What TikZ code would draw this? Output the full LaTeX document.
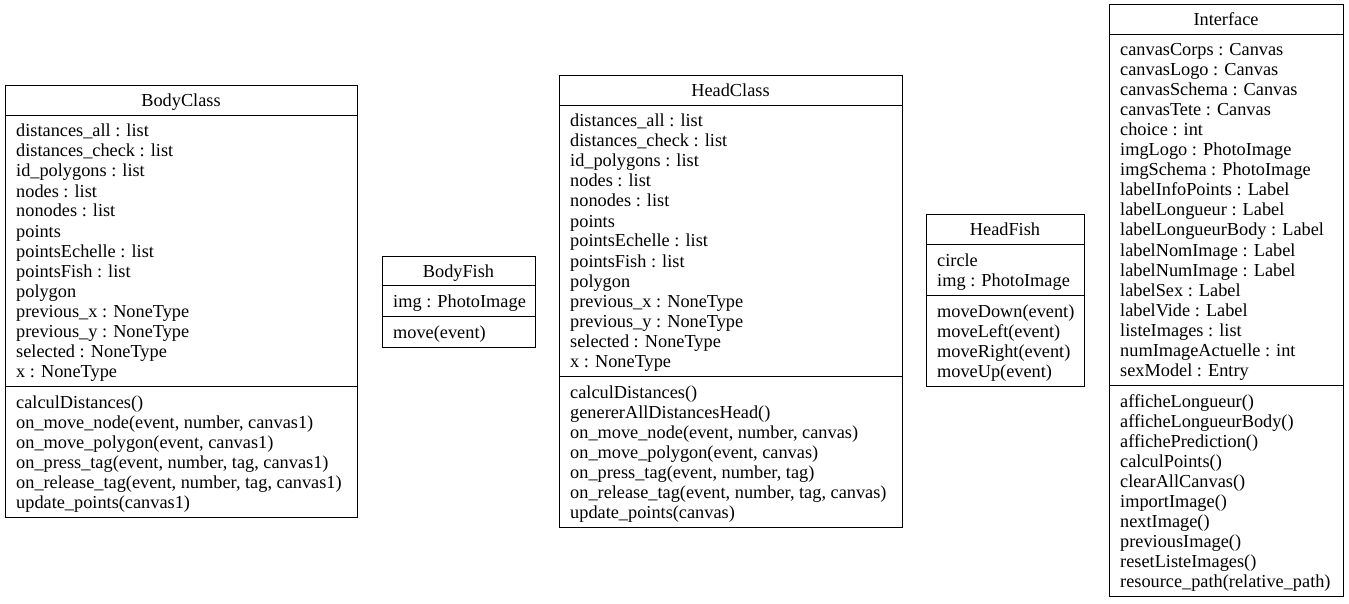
\documentclass[tikz,border=0pt]{standalone}
\usepackage{fontspec}
\setmainfont{Liberation Serif}
\newcommand\umlfont{\fontsize{18.3}{20}\selectfont}
\begin{document}
\begin{tikzpicture}[x=1pt,y=-1pt,
  classbox/.style={draw=black, line width=1pt, anchor=north west, inner sep=0pt, outer sep=0pt},
  classname/.style={anchor=base, inner sep=0pt, font=\umlfont},
  member/.style={anchor=base west, inner sep=0pt, font=\umlfont},
  sepline/.style={draw=black, line width=1pt}]
\useasboundingbox (0,0) rectangle (1349,604);

% ---------------- BodyClass ----------------
\node[classbox, minimum width=352pt, minimum height=431.5pt] (BodyClass) at (5,86) {};
\node[classname] (BodyClass-name) at (BodyClass.north |- 0,107) {BodyClass};
\draw[sepline] (BodyClass.west |- 0,115.5) -- (BodyClass.east |- 0,115.5);
\draw[sepline] (BodyClass.west |- 0,386.5) -- (BodyClass.east |- 0,386.5);
\foreach \t [count=\i from 0] in {{distances\_all : list},{distances\_check : list},{id\_polygons : list},{nodes : list},{nonodes : list},{points},{pointsEchelle : list},{pointsFish : list},{polygon},{previous\_x : NoneType},{previous\_y : NoneType},{selected : NoneType},{x : NoneType}}
  \node[member] (BodyClass-a\i) at (16,{137+20*\i}) {\t};
\foreach \t [count=\i from 0] in {{calculDistances()},{on\_move\_node(event, number, canvas1)},{on\_move\_polygon(event, canvas1)},{on\_press\_tag(event, number, tag, canvas1)},{on\_release\_tag(event, number, tag, canvas1)},{update\_points(canvas1)}}
  \node[member] (BodyClass-m\i) at (16,{408+20*\i}) {\t};

% ---------------- BodyFish ----------------
\node[classbox, minimum width=153pt, minimum height=91.5pt] (BodyFish) at (382,256) {};
\node[classname] (BodyFish-name) at (BodyFish.north |- 0,277) {BodyFish};
\draw[sepline] (BodyFish.west |- 0,285.5) -- (BodyFish.east |- 0,285.5);
\draw[sepline] (BodyFish.west |- 0,316.5) -- (BodyFish.east |- 0,316.5);
\node[member] (BodyFish-a0) at (393,307) {img : PhotoImage};
\node[member] (BodyFish-m0) at (393,338) {move(event)};

% ---------------- HeadClass ----------------
\node[classbox, minimum width=343pt, minimum height=451.5pt] (HeadClass) at (559,76) {};
\node[classname] (HeadClass-name) at (HeadClass.north |- 0,97) {HeadClass};
\draw[sepline] (HeadClass.west |- 0,105.5) -- (HeadClass.east |- 0,105.5);
\draw[sepline] (HeadClass.west |- 0,376.5) -- (HeadClass.east |- 0,376.5);
\foreach \t [count=\i from 0] in {{distances\_all : list},{distances\_check : list},{id\_polygons : list},{nodes : list},{nonodes : list},{points},{pointsEchelle : list},{pointsFish : list},{polygon},{previous\_x : NoneType},{previous\_y : NoneType},{selected : NoneType},{x : NoneType}}
  \node[member] (HeadClass-a\i) at (570,{127+20*\i}) {\t};
\foreach \t [count=\i from 0] in {{calculDistances()},{genererAllDistancesHead()},{on\_move\_node(event, number, canvas)},{on\_move\_polygon(event, canvas)},{on\_press\_tag(event, number, tag)},{on\_release\_tag(event, number, tag, canvas)},{update\_points(canvas)}}
  \node[member] (HeadClass-m\i) at (570,{398+20*\i}) {\t};

% ---------------- HeadFish ----------------
\node[classbox, minimum width=158pt, minimum height=171.5pt] (HeadFish) at (926,215) {};
\node[classname] (HeadFish-name) at (HeadFish.north |- 0,236) {HeadFish};
\draw[sepline] (HeadFish.west |- 0,244.5) -- (HeadFish.east |- 0,244.5);
\draw[sepline] (HeadFish.west |- 0,295.5) -- (HeadFish.east |- 0,295.5);
\foreach \t [count=\i from 0] in {{circle},{img : PhotoImage}}
  \node[member] (HeadFish-a\i) at (937,{266+20*\i}) {\t};
\foreach \t [count=\i from 0] in {{moveDown(event)},{moveLeft(event)},{moveRight(event)},{moveUp(event)}}
  \node[member] (HeadFish-m\i) at (937,{317+20*\i}) {\t};

% ---------------- Interface ----------------
\node[classbox, minimum width=234pt, minimum height=591.5pt] (Interface) at (1109,5) {};
\node[classname] (Interface-name) at (Interface.north |- 0,26) {Interface};
\draw[sepline] (Interface.west |- 0,34.5) -- (Interface.east |- 0,34.5);
\draw[sepline] (Interface.west |- 0,385.5) -- (Interface.east |- 0,385.5);
\foreach \t [count=\i from 0] in {{canvasCorps : Canvas},{canvasLogo : Canvas},{canvasSchema : Canvas},{canvasTete : Canvas},{choice : int},{imgLogo : PhotoImage},{imgSchema : PhotoImage},{labelInfoPoints : Label},{labelLongueur : Label},{labelLongueurBody : Label},{labelNomImage : Label},{labelNumImage : Label},{labelSex : Label},{labelVide : Label},{listeImages : list},{numImageActuelle : int},{sexModel : Entry}}
  \node[member] (Interface-a\i) at (1120,{56+20*\i}) {\t};
\foreach \t [count=\i from 0] in {{afficheLongueur()},{afficheLongueurBody()},{affichePrediction()},{calculPoints()},{clearAllCanvas()},{importImage()},{nextImage()},{previousImage()},{resetListeImages()},{resource\_path(relative\_path)}}
  \node[member] (Interface-m\i) at (1120,{407+20*\i}) {\t};
\end{tikzpicture}
\end{document}
